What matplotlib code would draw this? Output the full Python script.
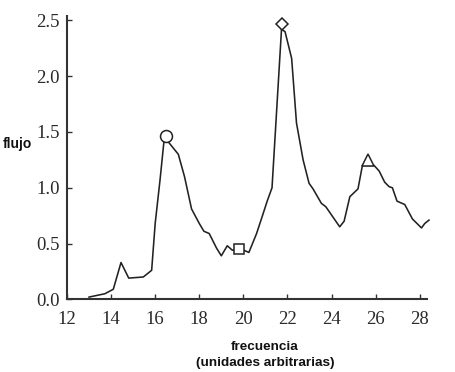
import matplotlib
matplotlib.use('Agg')
from matplotlib import pyplot as plt

# espectro
frecuencia = [13.0, 13.72, 14.1, 14.45, 14.8, 15.46, 15.84, 16.0, 16.22, 16.4,
              16.6, 17.05, 17.33, 17.65, 18.0, 18.21, 18.45, 18.78, 19.0, 19.27,
              19.5, 19.8, 20.02, 20.25, 20.6, 20.9, 21.08, 21.3, 21.73, 21.89,
              22.19, 22.41, 22.71, 22.98, 23.16, 23.54, 23.74, 24.37, 24.57, 24.83,
              25.2, 25.4, 25.93, 26.16, 26.41, 26.61, 26.76, 26.97, 27.32, 27.67,
              28.08, 28.23, 28.42]
flujo = [0.02, 0.05, 0.09, 0.33, 0.19, 0.20, 0.26, 0.68, 1.07, 1.42,
         1.41, 1.30, 1.10, 0.81, 0.68, 0.61, 0.59, 0.46, 0.39, 0.48,
         0.44, 0.45, 0.44, 0.42, 0.59, 0.77, 0.88, 1.00, 2.42, 2.40,
         2.16, 1.58, 1.25, 1.04, 0.99, 0.86, 0.83, 0.65, 0.70, 0.92,
         0.99, 1.20, 1.20, 1.15, 1.05, 1.01, 1.00, 0.88, 0.85, 0.72,
         0.64, 0.68, 0.71]

# marcadores de los picos
marca_x = [16.47, 19.8, 21.75, 25.67]
marca_y = [1.466, 0.45, 2.47, 1.25]
marca_tipo = ['o', 's', 'D', '^']
marca_tam = [8.6, 6.7, 6.6, 8.5]

x_ticks = [12, 14, 16, 18, 20, 22, 24, 26, 28]
y_ticks = [0.0, 0.5, 1.0, 1.5, 2.0, 2.5]

fig = plt.figure(figsize=(4.56, 3.72), dpi=100)
ax = fig.add_axes([67/456, 1 - 299.3/372, 360/456, 283.3/372])

ax.plot(frecuencia, flujo, color='#222222', lw=1.15, clip_on=False, zorder=2)
for mx, my, mk, ms in zip(marca_x, marca_y, marca_tipo, marca_tam):
    ax.plot([mx], [my], marker=mk, ms=ms, mfc='white', mec='#222222',
            mew=1.1, ls='none', clip_on=False, zorder=3)

ax.set_xlim(12, 28.33)
ax.set_ylim(0, 2.54)
ax.set_xticks(x_ticks)
ax.set_yticks(y_ticks)
ax.set_yticklabels(['%.1f' % v for v in y_ticks])

for s in ['top', 'right']:
    ax.spines[s].set_visible(False)
for s in ['left', 'bottom']:
    ax.spines[s].set_linewidth(1.5)
    ax.spines[s].set_color('#333333')

ax.tick_params(direction='in', length=3.5, width=1, color='#333333',
               labelcolor='#2a2a2a', labelsize=13.5)
ax.tick_params(axis='x', pad=8.5)
ax.tick_params(axis='y', pad=5)
for lab in ax.get_xticklabels() + ax.get_yticklabels():
    lab.set_family('Liberation Serif')

fig.text(17/456, 1 - 144/372, 'flujo', ha='center', va='center',
         family='Liberation Sans', weight='bold', fontsize=10, color='#111111')
fig.text(265/456, 1 - 347/372, 'frecuencia', ha='center', va='center',
         family='Liberation Sans', weight='bold', fontsize=9.7, color='#111111')
fig.text(265/456, 1 - 363/372, '(unidades arbitrarias)', ha='center', va='center',
         family='Liberation Sans', weight='bold', fontsize=9.7, color='#111111')

fig.savefig('out.png', dpi=100)
